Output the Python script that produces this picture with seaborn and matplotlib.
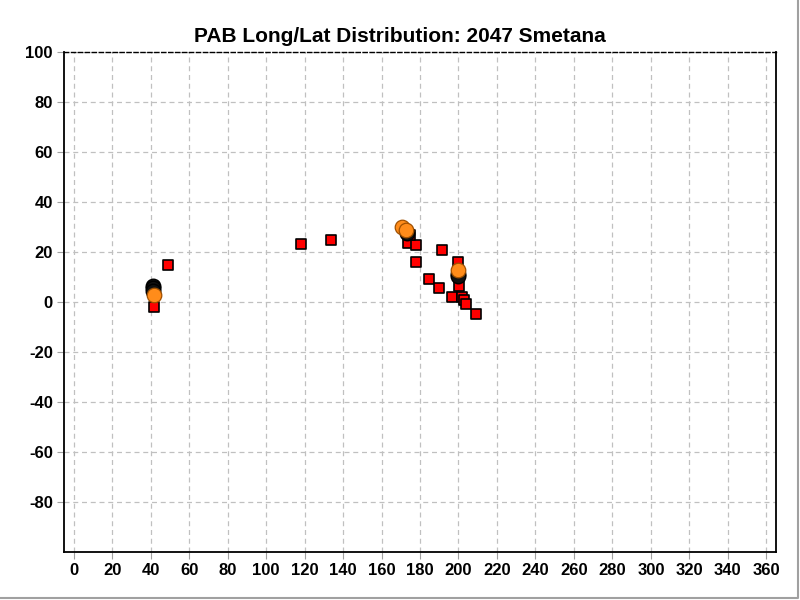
import numpy as np
import pandas as pd
import matplotlib
matplotlib.use('Agg')
import matplotlib.pyplot as plt
import seaborn as sns
from matplotlib.lines import Line2D

# red squares
sq_long = [48.8, 41.6, 118.4, 133.5, 174.0, 178.0, 191.3, 178.0, 199.6, 184.6,
           189.8, 200.2, 196.5, 201.7, 202.8, 203.8, 209.0, 175.0]
sq_lat = [14.8, -2.0, 23.2, 24.8, 23.6, 22.7, 21.0, 15.9, 16.0, 9.1,
          5.5, 6.5, 1.9, 1.9, 0.8, -0.9, -4.9, 27.0]

# black circles
bk_long = [41.5, 41.5, 41.5, 173.5, 199.5, 199.5]
bk_lat = [6.5, 5.6, 4.4, 27.5, 11.2, 10.4]

# orange circles
or_long = [41.8, 170.6, 172.8, 199.5]
or_lat = [2.8, 30.1, 28.8, 12.7]

sns.set_style('white')
plt.rcParams['font.family'] = ['Liberation Sans', 'DejaVu Sans']
plt.rcParams['axes.unicode_minus'] = False

fig = plt.figure(figsize=(8, 6), dpi=100)
ax = fig.add_axes([0.08, 0.08, 0.89, 0.8333])

squares = pd.DataFrame({'long': sq_long, 'lat': sq_lat})
blacks = pd.DataFrame({'long': bk_long, 'lat': bk_lat})
oranges = pd.DataFrame({'long': or_long, 'lat': or_lat})

sns.scatterplot(data=squares, x='long', y='lat', marker='s', s=55, color='#ff0000',
                edgecolor='black', linewidth=1.2, ax=ax, zorder=3)
sns.scatterplot(data=blacks, x='long', y='lat', marker='o', s=110, color='#111111',
                edgecolor='black', linewidth=1.0, ax=ax, zorder=4)
sns.scatterplot(data=oranges, x='long', y='lat', marker='o', s=110, color='#ff8c1a',
                edgecolor='#a05000', linewidth=0.9, ax=ax, zorder=5)

ax.set_xlim(-5, 365)
ax.set_ylim(-100, 100)
ax.set_xticks(np.arange(0, 361, 20))
ax.set_yticks(np.arange(-80, 101, 20))
ax.set_xlabel('')
ax.set_ylabel('')
ax.grid(True, color='#c0c0c0', linestyle=(0, (4, 3)), linewidth=0.9)
ax.set_axisbelow(True)
ax.tick_params(axis='both', direction='out', length=5, color='#a0a0a0',
               labelsize=12, labelcolor='black', pad=3, bottom=True, left=True)
for lbl in ax.get_xticklabels() + ax.get_yticklabels():
    lbl.set_fontweight('bold')

for side in ['left', 'bottom', 'right']:
    ax.spines[side].set_color('black')
    ax.spines[side].set_linewidth(1.3)
ax.spines['top'].set_color('black')
ax.spines['top'].set_linestyle((0, (3, 2)))
ax.spines['top'].set_linewidth(1.0)

fig.text(0.5, 0.94, 'PAB Long/Lat Distribution: 2047 Smetana', ha='center', va='center',
         fontsize=15, fontweight='bold', color='black')

# light frame on right and bottom edges
fig.lines.append(Line2D([0, 0.998, 0.998], [0.003, 0.003, 1], transform=fig.transFigure,
                        color='#a0a0a0', linewidth=1.5))

fig.savefig('out.png', dpi=100)
